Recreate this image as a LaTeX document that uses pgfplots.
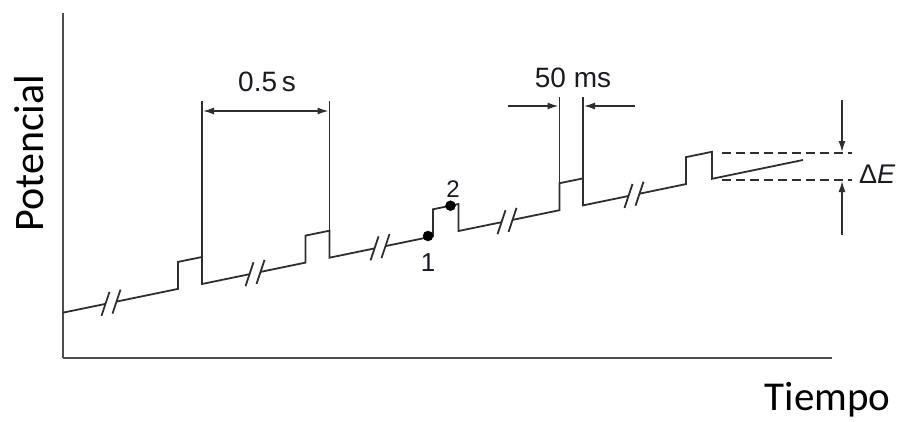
\documentclass[border=0pt]{standalone}
\usepackage{pgfplots}
\pgfplotsset{compat=1.18}
\usetikzlibrary{arrows.meta}
\usepackage{fontspec}
\setmainfont{Liberation Sans}
\newfontfamily\calibri{Carlito}
\definecolor{ink}{HTML}{2E2E2E}
\definecolor{txt}{HTML}{1A1A22}
\begin{document}
\begin{tikzpicture}
\begin{axis}[
  scale only axis,
  width=769.3pt, height=345pt,
  xmin=62.7, xmax=832, ymin=63, ymax=408,
  axis lines=left,
  axis line style={-, line width=2.2pt, color=ink!85},
  ticks=none,
  clip=false,
  unbounded coords=jump,
  xlabel={\calibri\fontsize{41}{45}\selectfont Tiempo},
  ylabel={\calibri\fontsize{42}{46}\selectfont Potencial},
  xlabel style={at={(axis description cs:0.9942,-0.1536)}, anchor=base, text=black},
  ylabel style={at={(axis description cs:-0.0256,0.594)}, rotate=0, anchor=base, text=black},
]
% waveform
\addplot[ink, line width=1.8pt, line join=miter] coordinates {
 (62.7,108.3) (105.5,117.1) (105.5,nan)
 (116.5,119.4) (178,132.1) (178,159.1) (202,164.0) (202,137.0) (249.5,146.8) (249.5,nan)
 (260.5,149.1) (305.5,158.4) (305.5,185.4) (329.5,190.3) (329.5,163.3) (374.5,172.6) (374.5,nan)
 (385.5,174.9) (433,184.7) (433,211.7) (458.5,217.0) (458.5,190.0) (501.5,198.8) (501.5,nan)
 (512.5,201.1) (559.5,210.8) (559.5,237.8) (583,242.6) (583,215.6) (628.5,225.0) (628.5,nan)
 (639.5,227.3) (686,236.9) (686,263.9) (712,269.2) (712,242.2) (803,261.0)
};
% break marks
\addplot[ink, line width=1.8pt] coordinates {
 (101.5,105.1) (109.5,129.1) (109.5,nan)
 (112.5,107.4) (120.5,131.4) (120.5,nan)
 (245.5,134.8) (253.5,158.8) (253.5,nan)
 (256.5,137.1) (264.5,161.1) (264.5,nan)
 (370.5,160.6) (378.5,184.6) (378.5,nan)
 (381.5,162.9) (389.5,186.9) (389.5,nan)
 (497.5,186.8) (505.5,210.8) (505.5,nan)
 (508.5,189.1) (516.5,213.1) (516.5,nan)
 (624.5,213.0) (632.5,237.0) (632.5,nan)
 (635.5,215.3) (643.5,239.3)
};
% points 1 and 2
\addplot[only marks, mark=*, mark size=5pt, black] coordinates {(428,185.0) (450.5,215.3)};
\node[anchor=base, text=txt, font=\fontsize{26}{29}\selectfont] at (axis cs:428,150) {1};
\node[anchor=base, text=txt, font=\fontsize{24}{27}\selectfont] at (axis cs:453,224) {2};
% 0.5 s dimension
\draw[ink, line width=1.4pt] (axis cs:202,320) -- (axis cs:202,164.0);
\draw[ink, line width=1.4pt] (axis cs:329.5,320) -- (axis cs:329.5,190.3);
\draw[ink, line width=1.4pt, {Latex[length=11pt,width=7pt]}-{Latex[length=11pt,width=7pt]}] (axis cs:203,310) -- (axis cs:328.5,310);
\node[anchor=base, text=txt, font=\fontsize{28}{31}\selectfont] at (axis cs:267,329) {0.5\,s};
% 50 ms dimension
\draw[ink, line width=1.4pt] (axis cs:559.5,324) -- (axis cs:559.5,237.8);
\draw[ink, line width=1.4pt] (axis cs:583,324) -- (axis cs:583,242.6);
\draw[ink, line width=1.4pt, -{Latex[length=11pt,width=7pt]}] (axis cs:508,315) -- (axis cs:558.5,315);
\draw[ink, line width=1.4pt, -{Latex[length=11pt,width=7pt]}] (axis cs:635,315) -- (axis cs:584,315);
\node[anchor=base, text=txt, font=\fontsize{28}{31}\selectfont] at (axis cs:573,334) {50 ms};
% Delta E
\draw[ink, line width=1.5pt, dash pattern=on 9pt off 5pt] (axis cs:722,268) -- (axis cs:852,268);
\draw[ink, line width=1.5pt, dash pattern=on 9pt off 5pt] (axis cs:722,241) -- (axis cs:852,241);
\draw[ink, line width=1.4pt, -{Latex[length=11pt,width=7pt]}] (axis cs:842,321) -- (axis cs:842,269);
\draw[ink, line width=1.4pt, -{Latex[length=11pt,width=7pt]}] (axis cs:842,186) -- (axis cs:842,240);
\node[anchor=base west, inner xsep=0pt, text=txt, font=\fontsize{27}{30}\selectfont] at (axis cs:859,238) {Δ\textit{E}};
\coordinate (BL) at (axis cs:0,0);
\coordinate (TR) at (axis cs:899,421);
\end{axis}
\pgfresetboundingbox
\path (BL) rectangle (TR);
\end{tikzpicture}
\end{document}
